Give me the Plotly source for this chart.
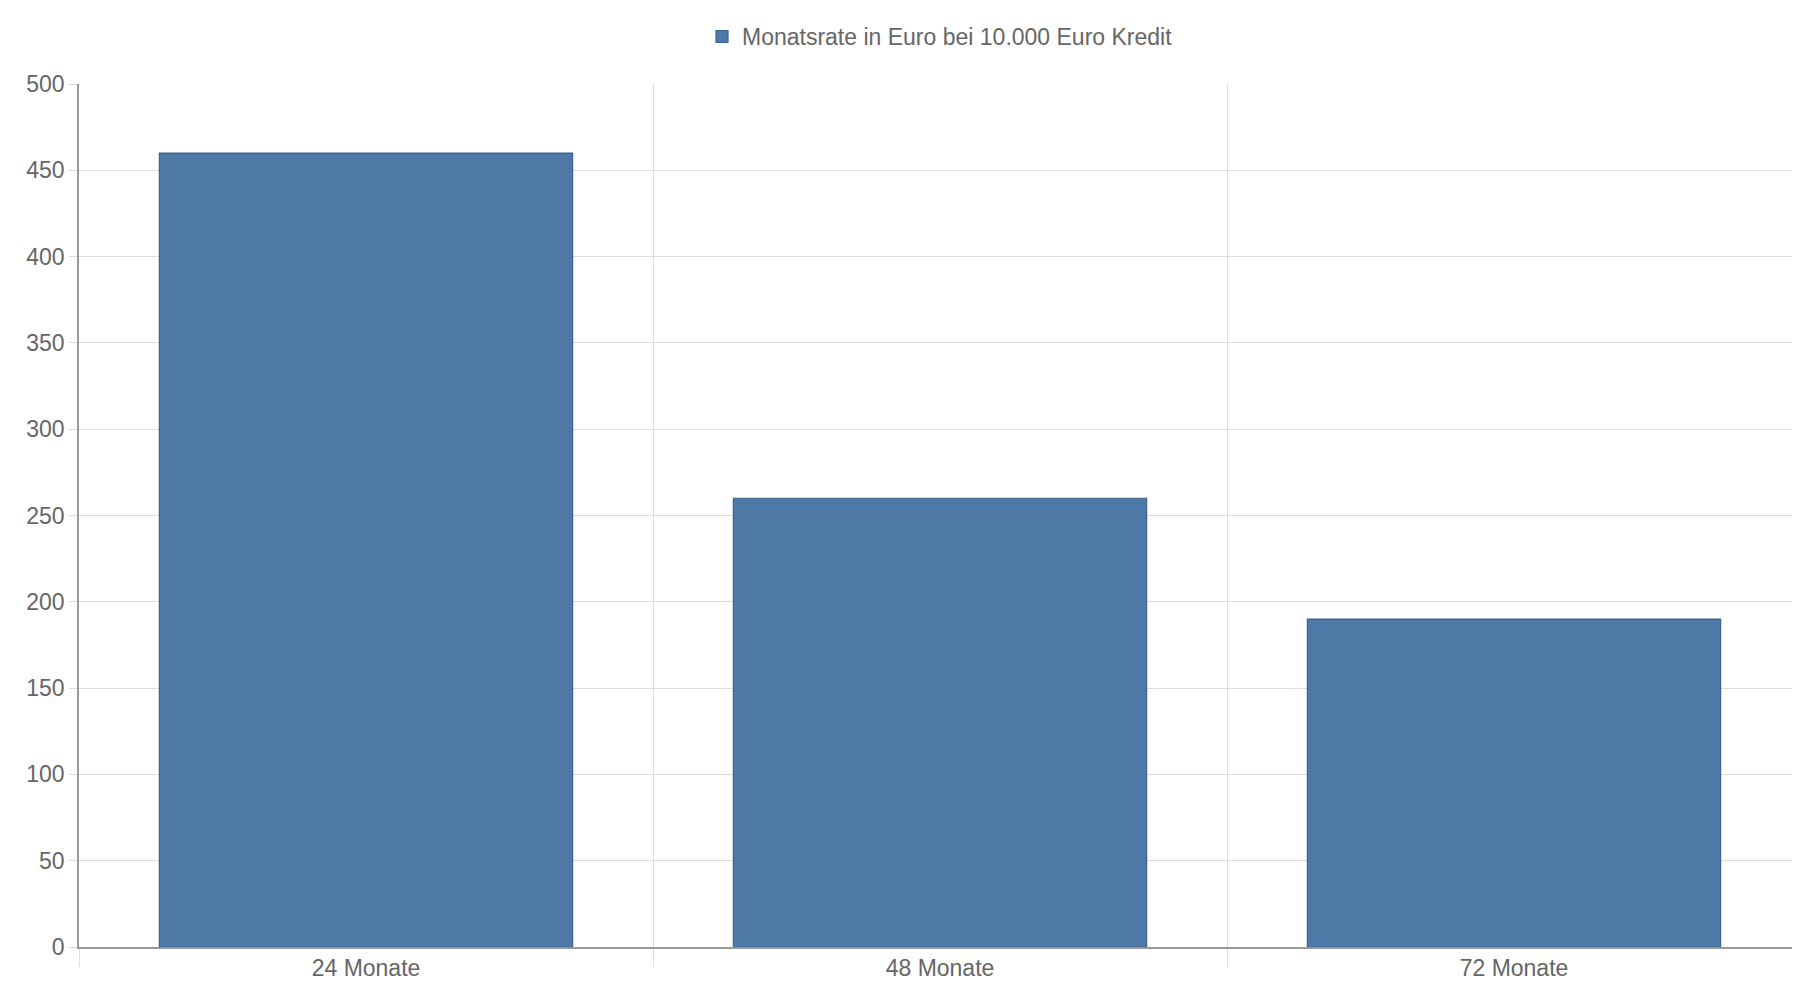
import plotly.graph_objects as go

categories = ["24 Monate", "48 Monate", "72 Monate"]
values = [460, 260, 190]
series_name = "Monatsrate in Euro bei 10.000 Euro Kredit"

fig = go.Figure(go.Bar(
    x=categories, y=values, name=series_name,
    marker=dict(color="#4e79a7", line=dict(color="#3b6390", width=1.2)),
    showlegend=True,
))
fig.update_layout(
    width=1800, height=1000,
    margin=dict(l=71, r=7, t=63, b=61),
    paper_bgcolor="white", plot_bgcolor="white",
    font=dict(family="Liberation Sans, Arial", size=23, color="#666666"),
    bargap=0.28,
    legend=dict(orientation="h", x=0.5, xanchor="center", y=1.055, yanchor="middle",
                font=dict(size=23, color="#666666")),
)
fig.update_xaxes(type="category", tickson="boundaries", showgrid=True, gridcolor="#dddddd",
                 ticks="outside", ticklen=18, tickcolor="#dddddd",
                 showline=True, linecolor="#999999", linewidth=1.5, mirror=False)
fig.update_yaxes(range=[0, 500], dtick=50, showgrid=True, gridcolor="#dddddd",
                 showline=True, linecolor="#999999", linewidth=1.5,
                 ticks="outside", ticklen=8, tickcolor="#dddddd", zeroline=False)
fig.write_html("out.html")
